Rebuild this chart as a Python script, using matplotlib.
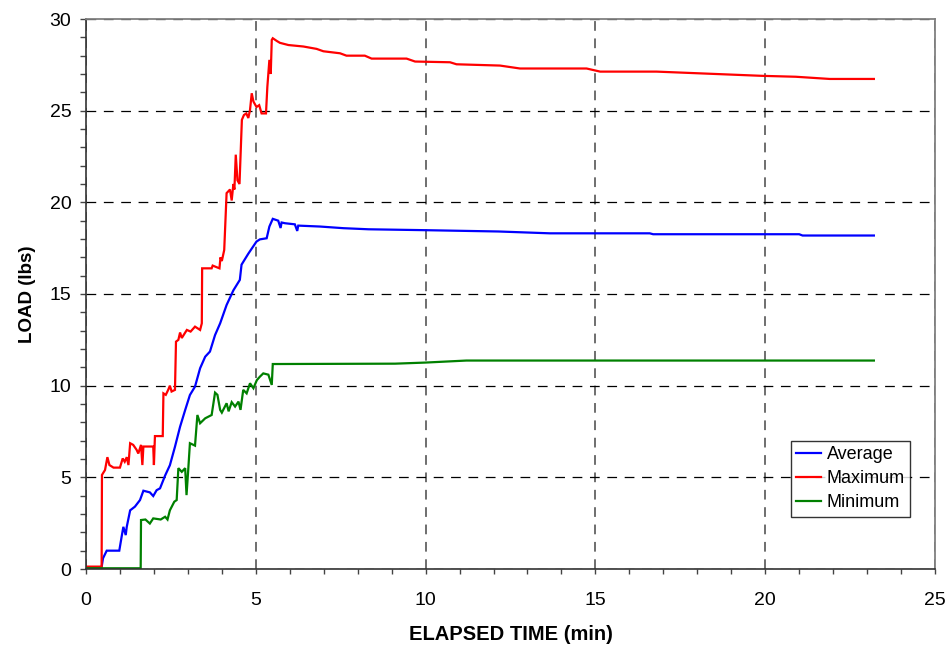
import matplotlib
matplotlib.use("Agg")
import matplotlib.pyplot as plt
from matplotlib.ticker import MultipleLocator

plt.rcParams["font.family"] = ["Liberation Sans", "DejaVu Sans"]
plt.rcParams["lines.scale_dashes"] = False

# Load test record: elapsed time (min) vs. load (lbs)
avg_time = [0, 0.46, 0.5, 0.61, 0.98, 1.05, 1.1, 1.17, 1.2, 1.3, 1.44, 1.59, 1.69, 1.88,
            1.98, 2.08, 2.18, 2.33, 2.47, 2.62, 2.77, 2.92, 3.06, 3.21, 3.36, 3.51, 3.65,
            3.8, 3.95, 4.14, 4.34, 4.53, 4.58, 4.78, 5.02, 5.12, 5.32, 5.4, 5.5, 5.66,
            5.73, 5.76, 5.86, 6.15, 6.22, 6.25, 6.89, 7.58, 8.32, 10.03, 12.14, 13.66,
            15.72, 16.6, 16.7, 21.0, 21.1, 23.2]
avg_load = [0.1, 0.1, 0.58, 1.0, 1.0, 1.77, 2.3, 1.85, 2.3, 3.2, 3.4, 3.76, 4.27, 4.18,
            3.98, 4.3, 4.4, 5.1, 5.66, 6.67, 7.76, 8.67, 9.49, 9.95, 10.95, 11.58, 11.86,
            12.76, 13.4, 14.4, 15.2, 15.77, 16.6, 17.2, 17.86, 17.98, 18.04, 18.68, 19.1,
            19.0, 18.6, 18.9, 18.86, 18.8, 18.44, 18.73, 18.68, 18.59, 18.53, 18.48,
            18.41, 18.31, 18.31, 18.31, 18.26, 18.26, 18.19, 18.19]

max_time = [0, 0.46, 0.47, 0.56, 0.63, 0.69, 0.81, 1.0, 1.08, 1.14, 1.2, 1.25, 1.3, 1.39,
            1.49, 1.54, 1.62, 1.66, 1.69, 1.98, 2.0, 2.03, 2.26, 2.28, 2.35, 2.42, 2.47,
            2.52, 2.62, 2.65, 2.72, 2.77, 2.82, 2.97, 3.08, 3.21, 3.36, 3.41, 3.42, 3.7,
            3.73, 3.93, 3.96, 4.0, 4.07, 4.14, 4.24, 4.29, 4.34, 4.37, 4.41, 4.46, 4.52,
            4.59, 4.65, 4.72, 4.78, 4.83, 4.88, 4.93, 5.02, 5.1, 5.17, 5.3, 5.34, 5.4,
            5.44, 5.47, 5.5, 5.62, 5.71, 5.96, 6.4, 6.79, 6.99, 7.48, 7.67, 8.21, 8.41,
            9.44, 9.69, 10.72, 10.91, 12.19, 12.78, 14.74, 15.14, 16.8, 19.9, 20.9,
            21.9, 23.2]
max_load = [0.13, 0.13, 5.13, 5.4, 6.1, 5.67, 5.53, 5.53, 6.03, 5.85, 6.1, 5.67, 6.86,
            6.77, 6.5, 6.3, 6.77, 5.67, 6.68, 6.68, 5.67, 7.25, 7.25, 9.58, 9.5, 9.77,
            10.0, 9.68, 9.77, 12.4, 12.5, 12.9, 12.6, 13.04, 12.95, 13.22, 13.04, 13.4,
            16.4, 16.4, 16.55, 16.4, 17.0, 16.8, 17.4, 20.5, 20.7, 20.1, 21.0, 20.7,
            22.6, 21.2, 21.0, 24.5, 24.76, 24.85, 24.6, 25.04, 25.95, 25.5, 25.2, 25.3,
            24.85, 24.85, 26.3, 27.77, 27.0, 28.86, 28.95, 28.8, 28.7, 28.58, 28.5,
            28.37, 28.24, 28.13, 28.0, 28.0, 27.84, 27.84, 27.68, 27.64, 27.53, 27.46,
            27.3, 27.3, 27.13, 27.13, 26.9, 26.85, 26.73, 26.73]

min_time = [0, 1.61, 1.62, 1.75, 1.88, 1.98, 2.2, 2.33, 2.4, 2.47, 2.6, 2.67, 2.72, 2.82,
            2.92, 2.96, 3.01, 3.06, 3.21, 3.28, 3.36, 3.51, 3.7, 3.8, 3.87, 3.95, 4.0,
            4.14, 4.2, 4.29, 4.39, 4.49, 4.55, 4.63, 4.73, 4.83, 4.93, 5.03, 5.12, 5.22,
            5.37, 5.47, 5.5, 9.1, 10.0, 11.2, 23.2]
min_load = [0.04, 0.04, 2.67, 2.7, 2.48, 2.76, 2.7, 2.85, 2.7, 3.2, 3.67, 3.76, 5.5, 5.3,
            5.5, 4.03, 5.4, 6.86, 6.73, 8.4, 7.95, 8.22, 8.4, 9.62, 9.5, 8.68, 8.53,
            9.04, 8.6, 9.1, 8.86, 9.13, 8.68, 9.77, 9.58, 10.13, 9.86, 10.3, 10.49,
            10.67, 10.6, 10.04, 11.18, 11.2, 11.26, 11.37, 11.37]

series = [
    ("Average", avg_time, avg_load, "#0000FF"),
    ("Maximum", max_time, max_load, "#FF0000"),
    ("Minimum", min_time, min_load, "#008000"),
]

W, H = 947, 646
fig = plt.figure(figsize=(W / 100, H / 100), dpi=100)
ax = fig.add_axes([86 / W, 1 - 569 / H, (935 - 86) / W, (569 - 19) / H])

for name, t, y, c in series:
    ax.plot(t, y, color=c, lw=1.6, label=name, solid_joinstyle="miter")

ax.set_xlim(0, 25)
ax.set_ylim(0, 30)
ax.xaxis.set_major_locator(MultipleLocator(5))
ax.xaxis.set_minor_locator(MultipleLocator(1))
ax.yaxis.set_major_locator(MultipleLocator(5))
ax.yaxis.set_minor_locator(MultipleLocator(1))

ax.grid(True, which="major", axis="y", color="#000000", lw=0.9, linestyle=(0, (7, 5.5)))
ax.grid(True, which="major", axis="x", color="#555555", lw=1.2, linestyle=(0, (7, 5.5)))
ax.set_axisbelow(True)

ax.tick_params(axis="x", which="both", direction="out", length=3.3, width=1,
               color="#444444", pad=13, labelsize=14)
ax.tick_params(axis="y", which="both", direction="out", length=4.5, width=1,
               color="#444444", pad=6, labelsize=14)

for side in ("left", "bottom"):
    ax.spines[side].set_color("#333333")
    ax.spines[side].set_linewidth(1.2)
for side in ("top", "right"):
    ax.spines[side].set_color("#808080")
    ax.spines[side].set_linewidth(1.3)

ax.set_xlabel("ELAPSED TIME (min)", fontsize=14.5, fontweight="bold")
ax.xaxis.label.set_va("center")
ax.xaxis.set_label_coords(0.5, (569 - 634) / 550)
ax.set_ylabel("LOAD (lbs)", fontsize=13.5, fontweight="bold")
ax.yaxis.label.set_va("center")
ax.yaxis.set_label_coords((27.5 - 86) / 849, 0.5)

leg = ax.legend(loc="upper left", bbox_to_anchor=(790.5 / W, 1 - 440.5 / H),
                bbox_transform=fig.transFigure, fontsize=13, frameon=True,
                fancybox=False, edgecolor="#000000", handlelength=1.4,
                handletextpad=0.3, borderpad=0.3, labelspacing=0.4,
                borderaxespad=0)
leg.get_frame().set_linewidth(1.0)
for line in leg.get_lines():
    line.set_linewidth(1.6)

fig.savefig("out.png", dpi=100)
